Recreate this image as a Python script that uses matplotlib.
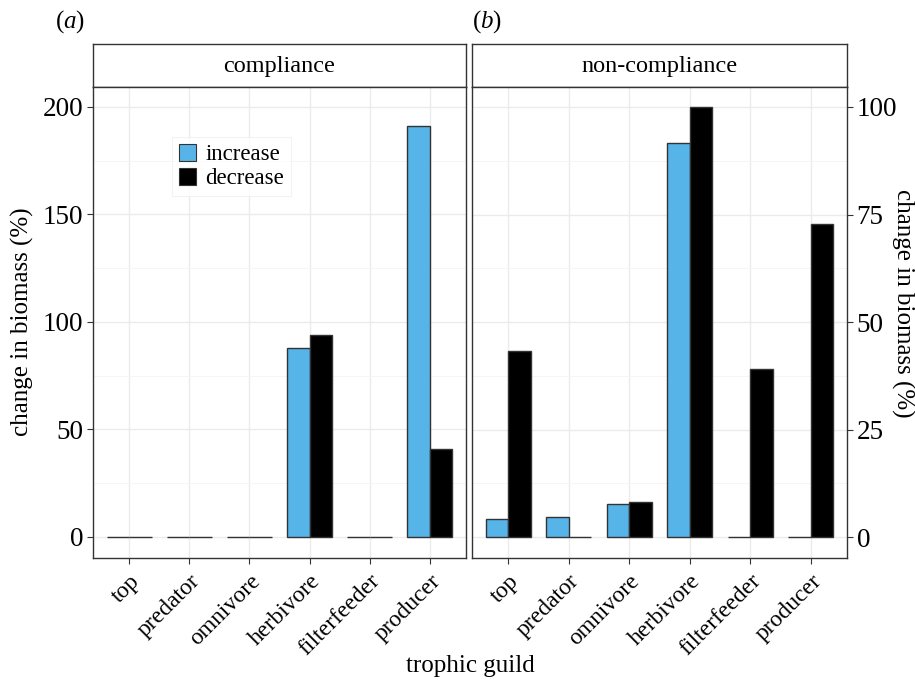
import matplotlib
matplotlib.use("Agg")
import matplotlib.pyplot as plt
import numpy as np
from matplotlib.patches import Patch

plt.rcParams['font.family'] = ['Liberation Serif', 'DejaVu Serif']
plt.rcParams['mathtext.fontset'] = 'custom'
plt.rcParams['mathtext.it'] = 'Liberation Serif:italic'
plt.rcParams['mathtext.rm'] = 'Liberation Serif'

guilds = ["top", "predator", "omnivore", "herbivore", "filterfeeder", "producer"]
comp_increase = [0, 0, 0, 88, 0, 191]
comp_decrease = [0, 0, 0, 94, 0, 41]
noncomp_increase = [4.2, 4.7, 7.7, 91.6, 0, 0]
noncomp_decrease = [43.2, 0, 8.2, 100, 39, 72.8]

left_ticks = [0, 50, 100, 150, 200]
right_ticks = [0, 25, 50, 75, 100]

BLUE = "#56B4E9"
W, H = 915, 680
FS = 18
fig = plt.figure(figsize=(W / 100, H / 100), dpi=100)

def px_axes(x0, y0, x1, y1):
    return fig.add_axes([x0 / W, 1 - y1 / H, (x1 - x0) / W, (y1 - y0) / H])

border = "#333333"
grid_major = "#EBEBEB"
grid_minor = "#F4F4F4"

def panel(x0, x1, inc, dec, ylim, ticks, title, right=False):
    strip = px_axes(x0, 44, x1, 87)
    strip.set_xticks([]); strip.set_yticks([])
    strip.set_facecolor("white")
    for s in strip.spines.values():
        s.set_color(border); s.set_linewidth(1.0)
    strip.text(0.5, 0.47, title, ha="center", va="center", fontsize=17.5, transform=strip.transAxes)

    ax = px_axes(x0, 87, x1, 558)
    x = np.arange(len(guilds))
    bw = 0.375
    ax.bar(x - bw / 2, inc, width=bw, color=BLUE, edgecolor=border, linewidth=1.0, zorder=3)
    ax.bar(x + bw / 2, dec, width=bw, color="black", edgecolor=border, linewidth=1.0, zorder=3)
    ax.set_xlim(-0.6, len(guilds) - 0.4)
    ax.set_ylim(*ylim)
    ax.set_yticks(ticks)
    minor = [(ticks[i] + ticks[i + 1]) / 2 for i in range(len(ticks) - 1)]
    ax.set_yticks(minor, minor=True)
    ax.tick_params(axis='y', which='minor', length=0)
    ax.grid(True, which='major', color=grid_major, linewidth=1.0, zorder=0)
    ax.grid(True, which='minor', axis='y', color=grid_minor, linewidth=0.6, zorder=0)
    ax.set_axisbelow(True)
    ax.set_xticks(x)
    ax.set_xticklabels(guilds, rotation=45, ha="right", rotation_mode="anchor", fontsize=17)
    ax.tick_params(axis='both', which='major', length=4, color=border, width=0.8)
    ax.tick_params(axis='y', labelsize=19.5, pad=3)
    ax.tick_params(axis='x', pad=5)
    for s in ax.spines.values():
        s.set_color(border); s.set_linewidth(1.0)
    if right:
        ax.yaxis.tick_right()
    return ax

axL = panel(93, 466, comp_increase, comp_decrease, (-9.8, 209.3), left_ticks, "compliance")
axR = panel(472, 847, noncomp_increase, noncomp_decrease, (-4.88, 104.65), right_ticks, "non-compliance", right=True)

handles = [Patch(facecolor=BLUE, edgecolor=border, linewidth=0.8, label="increase"),
           Patch(facecolor="black", edgecolor=border, linewidth=0.8, label="decrease")]
leg = axL.legend(handles=handles, loc="upper left", bbox_to_anchor=((172 - 93) / 373, (558 - 137) / 471),
                 fontsize=16.5, frameon=True, fancybox=False, handlelength=0.75, handleheight=0.75,
                 handletextpad=0.4, labelspacing=0.12, borderpad=0.3, borderaxespad=0)
leg.get_frame().set_edgecolor("#F0F0F0")
leg.get_frame().set_linewidth(0.8)

fig.text(22 / W, 1 - 322 / H, "change in biomass (%)", ha="center", va="center", rotation=90, fontsize=FS)
fig.text(903 / W, 1 - 303 / H, "change in biomass (%)", ha="center", va="center", rotation=-90, fontsize=FS)
fig.text(470 / W, 1 - 666 / H, "trophic guild", ha="center", va="center", fontsize=FS)
fig.text(55 / W, 1 - 22 / H, r"($\mathit{a}$)", ha="left", va="center", fontsize=FS)
fig.text(472 / W, 1 - 22 / H, r"($\mathit{b}$)", ha="left", va="center", fontsize=FS)

fig.savefig("out.png", dpi=100, facecolor="white")
